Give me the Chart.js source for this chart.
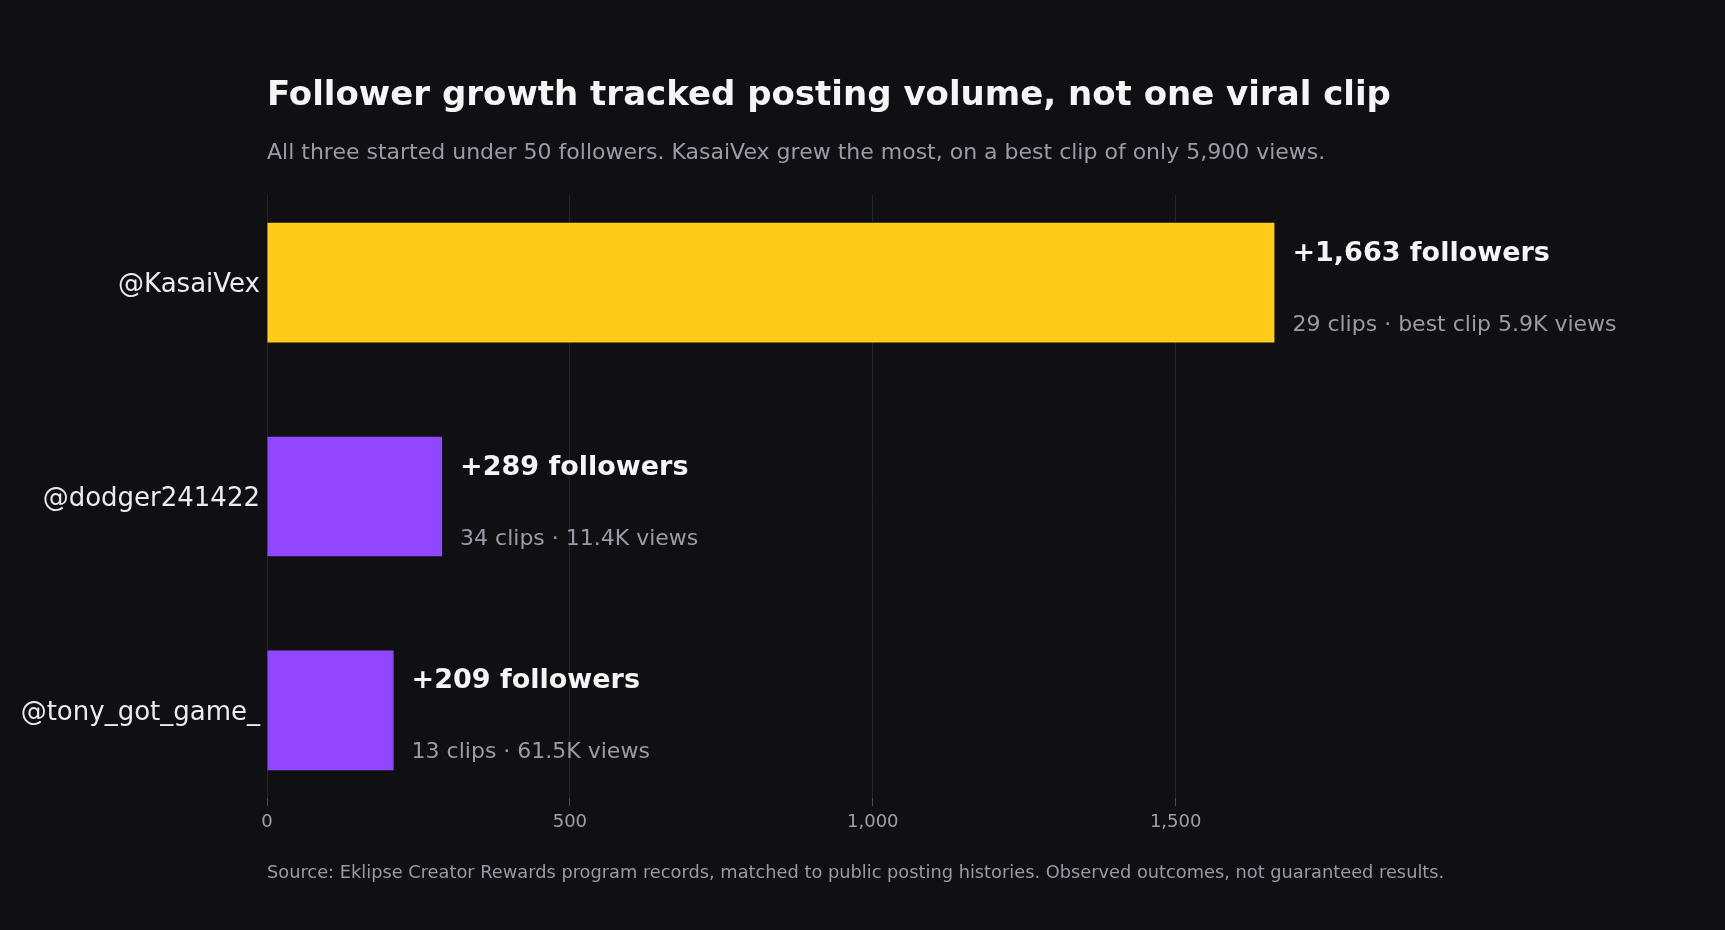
<!DOCTYPE html>
<html>
<head>
<meta charset="utf-8">
<script src="https://cdn.jsdelivr.net/npm/chart.js@4.4.1/dist/chart.umd.min.js"></script>
<style>
  html, body { margin: 0; padding: 0; background: #0f0f14; }
  #wrap { width: 1725px; height: 930px; }
</style>
</head>
<body>
<div id="wrap"><canvas id="c" width="1725" height="930"></canvas></div>
<script>
const accounts = ['@KasaiVex', '@dodger241422', '@tony_got_game_']
const followerGain = [1663, 289, 209]
const clipCounts = [29, 34, 13]
const viewNotes = ['best clip 5.9K views', '11.4K views', '61.5K views']
const xTickValues = [0, 500, 1000, 1500]

const TITLE = 'Follower growth tracked posting volume, not one viral clip'
const SUBTITLE = 'All three started under 50 followers. KasaiVex grew the most, on a best clip of only 5,900 views.'
const SOURCE = 'Source: Eklipse Creator Rewards program records, matched to public posting histories. Observed outcomes, not guaranteed results.'

const YELLOW = '#ffcc1a'
const PURPLE = '#9146ff'
const FONT = "'DejaVu Sans', sans-serif"

function fmt (n) {
  return n.toLocaleString('en-US')
}

const textPlugin = {
  id: 'texts',
  afterDatasetsDraw (chart) {
    const { ctx, chartArea } = chart
    const left = chartArea.left
    ctx.save()
    ctx.textAlign = 'left'
    ctx.textBaseline = 'alphabetic'

    ctx.fillStyle = '#f5f5f7'
    ctx.font = `bold 34px ${FONT}`
    ctx.fillText(TITLE, left, 105)

    ctx.fillStyle = '#9b9ba6'
    ctx.font = `22px ${FONT}`
    ctx.fillText(SUBTITLE, left, 159)

    ctx.font = `17.8px ${FONT}`
    ctx.fillStyle = '#9a9aa4'
    ctx.fillText(SOURCE, left, 878)

    const meta = chart.getDatasetMeta(0)
    meta.data.forEach((bar, i) => {
      const x = bar.x + 18
      ctx.fillStyle = '#f5f5f7'
      ctx.font = `bold 27px ${FONT}`
      ctx.fillText(`+${fmt(followerGain[i])} followers`, x, bar.y - 22)
      ctx.fillStyle = '#9b9ba6'
      ctx.font = `22px ${FONT}`
      ctx.fillText(`${clipCounts[i]} clips \u00b7 ${viewNotes[i]}`, x, bar.y + 48)
    })
    ctx.restore()
  }
}

new Chart(document.getElementById('c'), {
  type: 'bar',
  data: {
    datasets: [{
      data: followerGain.map((v, i) => ({ x: v, y: i })),
      backgroundColor: ctx => ctx.dataIndex === 0 ? YELLOW : PURPLE,
      borderWidth: 0,
      categoryPercentage: 1,
      barPercentage: 0.56,
    }],
  },
  options: {
    indexAxis: 'y',
    responsive: false,
    devicePixelRatio: 1,
    animation: false,
    layout: { padding: { top: 195, right: 307, bottom: 92, left: 0 } },
    plugins: {
      legend: { display: false },
      tooltip: { enabled: false },
    },
    scales: {
      x: {
        type: 'linear',
        min: 0,
        max: 1900,
        afterBuildTicks: axis => { axis.ticks = xTickValues.map(v => ({ value: v })) },
        afterFit: s => { s.height = 40 },
        border: { display: false },
        grid: { color: '#24242c', lineWidth: 1, tickLength: 8, tickColor: '#4a4a54' },
        ticks: {
          color: '#a0a0aa',
          font: { family: FONT, size: 18 },
          padding: 6,
          callback: v => fmt(v),
        },
      },
      y: {
        type: 'linear',
        reverse: true,
        offset: false,
        min: -0.41,
        max: 2.41,
        afterBuildTicks: axis => { axis.ticks = accounts.map((_, i) => ({ value: i })) },
        afterFit: s => { s.width = 267 },
        border: { display: false },
        grid: { display: false, drawTicks: false, offset: false },
        ticks: {
          color: '#ececf0',
          font: { family: FONT, size: 26 },
          padding: 7,
          labelOffset: 3,
          callback: v => accounts[v],
        },
      },
    },
  },
  plugins: [textPlugin],
})
</script>
</body>
</html>
